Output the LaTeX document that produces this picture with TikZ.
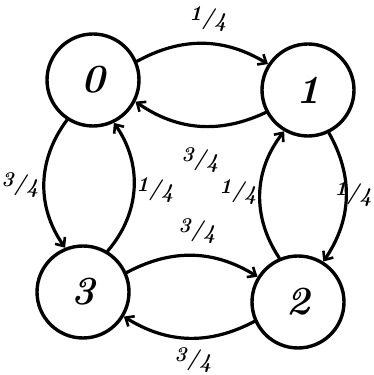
\documentclass[tikz,border=0pt]{standalone}
\usepackage{tikz}
\usetikzlibrary{arrows.meta}
\newcommand{\chfrac}[2]{\raisebox{0.45ex}{#1}/\raisebox{-0.35ex}{#2}}
\tikzset{
  chstate/.style={
    draw, circle, minimum size=92pt, inner sep=0pt, line width=3.4pt,
    font=\fontsize{40}{42}\selectfont\bfseries\itshape},
  charrow/.style={-{Straight Barb[length=7pt, width=12pt, line width=2.6pt]},
    line width=3.2pt},
  chprob/.style={font=\fontsize{21}{22}\selectfont\bfseries\itshape,
    inner sep=1pt},
  every picture/.style={line cap=round},
}
\begin{document}
\begin{tikzpicture}[x=1pt, y=1pt]
\useasboundingbox (0, 0) rectangle (373, 375);

% States.
\node[chstate] (s0) at (93, 295) {0};
\node[chstate] (s1) at (308, 285) {1};
\node[chstate] (s2) at (298, 73) {2};
\node[chstate] (s3) at (83, 83) {3};

% Top pair.
\draw[charrow] (s0.23) to[bend left=30] (s1.147);
\draw[charrow] (s1.208) to[bend left=30] (s0.333);
\node[chprob] (p01) at (208, 356) {\chfrac{1}{4}};
\node[chprob] (p10) at (200, 215) {\chfrac{3}{4}};

% Left pair.
\draw[charrow] (s0.237) to[bend right=36] (s3.112);
\draw[charrow] (s3.59) to[bend right=38] (s0.296);
\node[chprob] (p03) at (20, 190) {\chfrac{3}{4}};
\node[chprob] (p30) at (155, 185) {\chfrac{1}{4}};

% Right pair.
\draw[charrow] (s1.296) to[bend left=32] (s2.58);
\draw[charrow] (s2.113) to[bend left=36] (s1.240);
\node[chprob] (p21) at (238, 183) {\chfrac{1}{4}};
\node[chprob, inner sep=0pt, anchor=east] (p12) at (372, 181) {\chfrac{1}{4}};

% Bottom pair.
\draw[charrow] (s3.24) to[bend left=30] (s2.148);
\draw[charrow] (s2.204) to[bend left=30] (s3.329);
\node[chprob] (p32) at (197, 144) {\chfrac{3}{4}};
\node[chprob] (p23) at (193, 15) {\chfrac{3}{4}};

\end{tikzpicture}
\end{document}
